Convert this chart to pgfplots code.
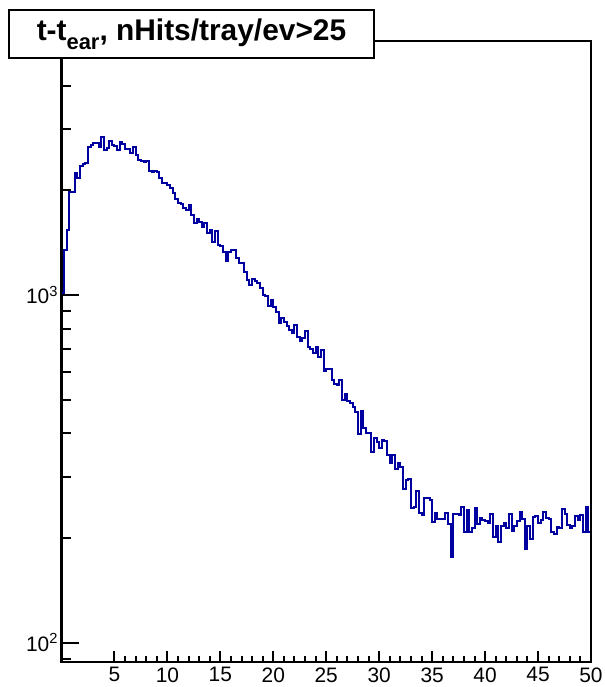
\documentclass[border=0pt]{standalone}
\usepackage{fontspec}
\setmainfont{Liberation Sans}
\usepackage{pgfplots}
\pgfplotsset{compat=1.18}
\definecolor{histblue}{RGB}{0,0,160}

% t - t_ear, bin width 0.25, value = bin content (left edge)
\pgfplotstableread{
x y
0 1011
0.25 1347
0.5 1538
0.75 1978
1 1978
1.25 2243
1.5 2170
1.75 2350
2 2381
2.25 2397
2.5 2665
2.75 2700
3 2736
3.25 2736
3.5 2665
3.75 2847
4 2612
4.25 2647
4.5 2773
4.75 2700
5 2683
5.25 2612
5.5 2754
5.75 2718
6 2630
6.25 2630
6.5 2561
6.75 2665
7 2527
7.25 2445
7.5 2429
7.75 2413
8 2429
8.25 2273
8.5 2258
8.75 2273
9 2258
9.25 2170
9.5 2099
9.75 2099
10 2072
10.25 2031
10.5 1965
10.75 1888
11 1839
11.25 1826
11.5 1779
11.75 1756
12 1814
12.25 1699
12.5 1611
12.75 1654
13 1622
13.25 1569
13.5 1611
13.75 1508
14 1538
14.25 1420
14.5 1528
14.75 1392
15 1383
15.25 1329
15.5 1253
15.75 1329
16 1347
16.25 1347
16.5 1278
16.75 1236
17 1236
17.25 1165
17.5 1104
17.75 1068
18 1112
18.25 1097
18.5 1083
18.75 1047
19 1000
19.25 993
19.5 930
19.75 967
20 924
20.25 894
20.5 831
20.75 859
21 836
21.25 814
21.5 793
21.75 777
22 820
22.25 757
22.5 737
22.75 752
23 788
23.25 709
23.5 699
23.75 681
24 709
24.25 663
24.5 695
24.75 605
25 613
25.25 613
25.5 569
25.75 555
26 551
26.25 569
26.5 499
26.75 519
27 496
27.25 489
27.5 476
27.75 461
28 398
28.25 464
28.5 414
28.75 401
29 401
29.25 354
29.5 388
29.75 378
30 363
30.25 383
30.5 380
30.75 347
31 329
31.25 347
31.5 316
31.75 329
32 320
32.25 277
32.5 294
32.75 296
33 244
33.25 246
33.5 273
33.75 236
34 233
34.25 261
34.5 261
34.75 257
35 222
35.25 236
35.5 227
35.75 227
36 227
36.25 236
36.5 219
36.75 176
37 234
37.25 234
37.5 233
37.75 246
38 208
38.25 241
38.5 208
38.75 214
39 244
39.25 219
39.5 228
39.75 225
40 224
40.25 221
40.5 234
40.75 201
41 217
41.25 195
41.5 217
41.75 221
42 214
42.25 234
42.5 210
42.75 217
43 224
43.25 238
43.5 227
43.75 186
44 217
44.25 199
44.5 230
44.75 231
45 221
45.25 225
45.5 238
45.75 228
46 227
46.25 208
46.5 205
46.75 215
47 214
47.25 242
47.5 234
47.75 218
48 214
48.25 217
48.5 231
48.75 225
49 233
49.25 208
49.5 246
49.75 208
50 208
}\hist

\begin{document}
\begin{tikzpicture}
% x ticks and the histogram
\begin{axis}[name=ax,
  scale only axis, width=529.5bp, height=620.5bp,
  xmin=0, xmax=50, ymin=88, ymax=5360, ymode=log,
  axis line style={line width=2bp},
  tick align=inside, tick pos=left,
  every tick/.style={black, line width=2bp},
  ticklabel style={font=\fontsize{21}{21}\selectfont},
  xtick={5,10,...,50}, xticklabels={5,10,15,20,25,30,35,40,45,50},
  minor x tick num=4,
  major tick length=11bp, minor tick length=6bp,
  ytick=\empty, yminorticks=false,
  xticklabel style={yshift=-2bp},
]
  \addplot[const plot mark left, histblue, line width=2bp] table[x=x, y=y] {\hist};
\end{axis}
% y ticks drawn separately (longer ticks than on x)
\begin{axis}[
  scale only axis, width=529.5bp, height=620.5bp,
  xmin=0, xmax=50, ymin=88, ymax=5360, ymode=log,
  axis line style={line width=2bp},
  tick align=inside, tick pos=left,
  every tick/.style={black, line width=2bp},
  ticklabel style={font=\fontsize{21}{21}\selectfont},
  xtick=\empty, xminorticks=false,
  ytick={100,1000}, yticklabels={10\textsuperscript{2},10\textsuperscript{3}},
  minor ytick={90,200,300,400,500,600,700,800,900,2000,3000,4000,5000},
  major tick length=17bp, minor tick length=9bp,
]
\end{axis}
\node[draw, line width=2bp, fill=white, anchor=north west,
      minimum width=365bp, minimum height=48bp, inner sep=0pt]
  at ([xshift=-53.5bp,yshift=32.5bp]ax.north west)
  {\fontsize{30}{30}\selectfont\bfseries t-t\raisebox{-9bp}{\fontsize{22}{22}\selectfont ear}, nHits/tray/ev>25};
\pgfresetboundingbox
\path ([xshift=-61.5bp,yshift=-25bp]ax.south west) rectangle ([xshift=14bp,yshift=41.5bp]ax.north east);
\end{tikzpicture}
\end{document}
